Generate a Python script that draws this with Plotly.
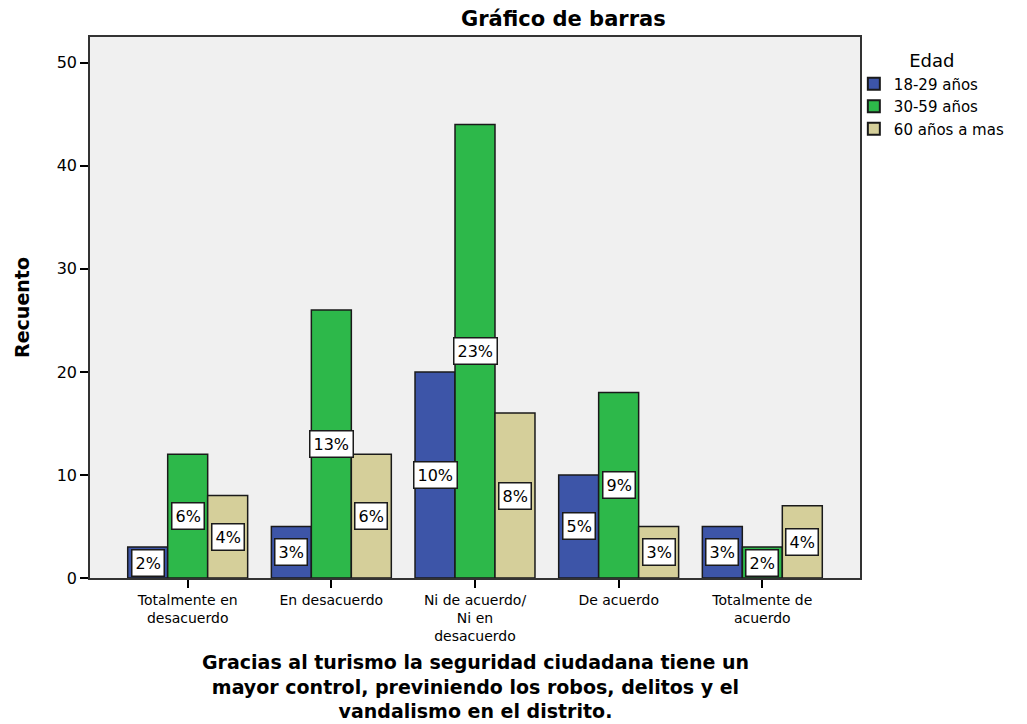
import plotly.graph_objects as go

categories = [
    "Totalmente en<br>desacuerdo",
    "En desacuerdo",
    "Ni de acuerdo/<br>Ni en<br>desacuerdo",
    "De acuerdo",
    "Totalmente de<br>acuerdo",
]
series_names = ["18-29 años", "30-59 años", "60 años a mas"]
counts_18_29 = [3, 5, 20, 10, 5]
counts_30_59 = [12, 26, 44, 18, 3]
counts_60 = [8, 12, 16, 5, 7]
pct_18_29 = ["2%", "3%", "10%", "5%", "3%"]
pct_30_59 = ["6%", "13%", "23%", "9%", "2%"]
pct_60 = ["4%", "6%", "8%", "3%", "4%"]
xtitle = ("Gracias al turismo la seguridad ciudadana tiene un<br>"
          "mayor control, previniendo los robos, delitos y el<br>"
          "vandalismo en el distrito.")

COLORS = ["#3D55A8", "#2DB84A", "#D5CF9A"]
FONT = "DejaVu Sans, Verdana, sans-serif"
BARGAP = 0.165
# page body has an 8px margin, so the figure is made that much smaller
W, H = 1019, 716

series = [counts_18_29, counts_30_59, counts_60]
pcts = [pct_18_29, pct_30_59, pct_60]
xpos = list(range(len(categories)))

fig = go.Figure()
for name, vals, color in zip(series_names, series, COLORS):
    fig.add_trace(go.Bar(
        x=xpos, y=vals, name=name,
        marker=dict(color=color, line=dict(color="#1a1a1a", width=1.5)),
    ))

# percentage boxes in the middle of each bar
bw = (1 - BARGAP) / 3
for j, (vals, labels) in enumerate(zip(series, pcts)):
    for i, (v, lab) in enumerate(zip(vals, labels)):
        fig.add_annotation(
            x=i + (j - 1) * bw, y=v / 2, text=lab, showarrow=False,
            font=dict(family=FONT, size=16, color="black"),
            bgcolor="white", bordercolor="#1a1a1a", borderwidth=1.5, borderpad=3,
        )

# x axis title as a centred annotation under the tick labels
fig.add_annotation(
    xref="paper", yref="paper", x=0.5, y=-108 / 541, yanchor="middle",
    text=f"<b>{xtitle}</b>", showarrow=False,
    font=dict(family=FONT, size=19, color="black"),
)

fig.update_layout(
    width=W, height=H,
    barmode="group", bargap=BARGAP, bargroupgap=0,
    paper_bgcolor="white", plot_bgcolor="#F0F0F0",
    font=dict(family=FONT, color="black", size=15),
    margin=dict(l=82, r=167, t=29, b=146, autoexpand=False),
    title=dict(text="<b>Gráfico de barras</b>", x=0.545, xanchor="center",
               y=1 - 11 / H, yanchor="middle", font=dict(size=21)),
    legend=dict(
        title=dict(text="Edad", side="top center", font=dict(size=18)),
        x=0.992, xanchor="left", y=1 - 7 / 541, yanchor="top",
        bgcolor="rgba(0,0,0,0)",
        font=dict(size=15), tracegroupgap=0, itemsizing="constant",
    ),
    showlegend=True,
)
fig.update_xaxes(
    range=[-0.68, 4.68], tickvals=xpos, ticktext=categories,
    ticks="outside", ticklen=8, tickcolor="black", tickwidth=1.5,
    showline=True, linecolor="#333", linewidth=1.5, mirror=True,
    showgrid=False, zeroline=False, tickfont=dict(size=14),
)
fig.update_yaxes(
    range=[0, 52.5], tickvals=[0, 10, 20, 30, 40, 50],
    ticks="outside", ticklen=8, tickcolor="black", tickwidth=1.5,
    showline=True, linecolor="#333", linewidth=1.5, mirror=True,
    showgrid=False, zeroline=False, tickfont=dict(size=16),
    title=dict(text="<b>Recuento</b>", font=dict(size=19), standoff=22),
)

fig.write_html("out.html")
